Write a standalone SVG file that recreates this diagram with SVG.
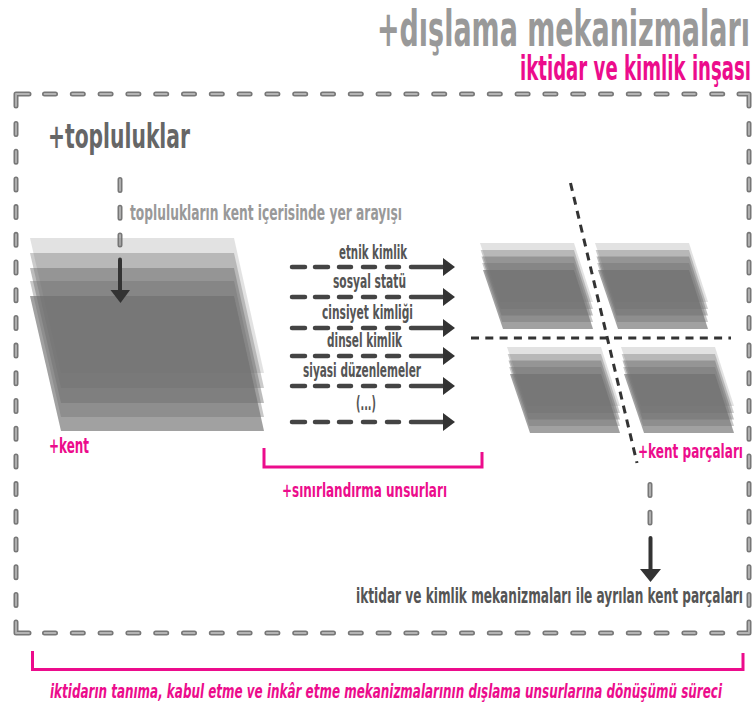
<svg xmlns="http://www.w3.org/2000/svg" xmlns:xlink="http://www.w3.org/1999/xlink" width="753" height="707" viewBox="0 0 753 707">
<style>
text{font-family:"DejaVu Sans","Liberation Sans",sans-serif;font-weight:700}
.p{fill:#ec0c8c}
.g{fill:#999}
.d{fill:#555}
.fo{fill:none;stroke:#777;stroke-width:5;stroke-linecap:round;stroke-linejoin:round}
.fi{fill:none;stroke:#b4b4b4;stroke-width:1.8;stroke-linecap:round;stroke-linejoin:round}
.h{stroke-dasharray:11 16.8}
.v{stroke-dasharray:11 16.7}
.brk{fill:none;stroke:#ec0c8c;stroke-width:3}
.a{fill:none;stroke:#444;stroke-width:4.500;stroke-linecap:round}
.ah{fill:#333}
.cut{fill:none;stroke:#333;stroke-width:3;stroke-dasharray:8 6.3}
.l{fill:#6e6e6e}
</style>
<defs>
<g id="frag">
<polygon class="l" fill-opacity=".2" points="0,0 94,0 113,59 20,59"/>
<polygon class="l" fill-opacity=".36" points=".7,7 94,7 113,66 20.7,66"/>
<polygon class="l" fill-opacity=".46" points="1.5,13.5 94,13.5 113,72.5 21.5,72.5"/>
<polygon class="l" fill-opacity=".38" points="2.2,20 94,20 113,79 22.2,79"/>
<polygon class="l" fill-opacity=".65" points="3,27 94,27 113,86 23,86"/>
</g>
</defs>

<g id="title">
<text class="g" x="377" y="46" font-size="50" textLength="373" lengthAdjust="spacingAndGlyphs">+dışlama mekanizmaları</text>
<text class="p" x="520" y="80" font-size="33" textLength="231" lengthAdjust="spacingAndGlyphs">iktidar ve kimlik inşası</text>
</g>

<g id="connectors">
<g id="frame">
<path class="fo" d="M16 106V94H29"/><path class="fi" d="M16 106V94H29"/>
<path class="fo" d="M739 94H749V106"/><path class="fi" d="M739 94H749V106"/>
<path class="fo" d="M16 622V633H29"/><path class="fi" d="M16 622V633H29"/>
<path class="fo" d="M739 633H749V622"/><path class="fi" d="M739 633H749V622"/>
<path class="fo h" d="M44.500 94H725"/><path class="fi h" d="M44.500 94H725"/>
<path class="fo h" d="M44.500 633H725"/><path class="fi h" d="M44.500 633H725"/>
<path class="fo v" d="M16 123.500V606"/><path class="fi v" d="M16 123.500V606"/>
<path class="fo v" d="M749 123.500V606"/><path class="fi v" d="M749 123.500V606"/>
</g>
<g id="search-line">
<path class="fo v" d="M120 179.500V245"/><path class="fi v" d="M120 179.500V245"/>
</g>
<g id="output-line">
<path class="fo v" d="M650 484.500V523"/><path class="fi v" d="M650 484.500V523"/>
</g>
</g>

<g id="topluluklar">
<text x="48" y="148" font-size="33" textLength="142" lengthAdjust="spacingAndGlyphs" fill="#666">+topluluklar</text>
<text class="g" x="130" y="220" font-size="22" textLength="272" lengthAdjust="spacingAndGlyphs">toplulukların kent içerisinde yer arayışı</text>
</g>

<g id="kent">
<polygon class="l" fill-opacity=".2" points="30,238 234,238 264,373 61,373"/>
<polygon class="l" fill-opacity=".36" points="30,253 234,253 264,388 61,388"/>
<polygon class="l" fill-opacity=".46" points="30,268 234,268 264,403 61,403"/>
<polygon class="l" fill-opacity=".38" points="30,281 234,281 264,417 61,417"/>
<polygon class="l" fill-opacity=".65" points="30,296 234,296 264,431 61,431"/>
<text class="p" x="49" y="453" font-size="22" textLength="40" lengthAdjust="spacingAndGlyphs">+kent</text>
</g>

<g id="search-arrow">
<path d="M120 259.500V292" fill="none" stroke="#333" stroke-width="4" stroke-linecap="round"/>
<polygon class="ah" points="110.500,290 130,290 120.500,303"/>
</g>

<g id="sinirlandirma">
<g id="a1"><text class="d" x="339" y="259" font-size="19" textLength="68" lengthAdjust="spacingAndGlyphs">etnik kimlik</text></g>
<g id="a2"><text class="d" x="333" y="288" font-size="19" textLength="73" lengthAdjust="spacingAndGlyphs">sosyal statü</text></g>
<g id="a3"><text class="d" x="322" y="319" font-size="19" textLength="91" lengthAdjust="spacingAndGlyphs">cinsiyet kimliği</text></g>
<g id="a4"><text class="d" x="327" y="347" font-size="19" textLength="75" lengthAdjust="spacingAndGlyphs">dinsel kimlik</text></g>
<g id="a5"><text class="d" x="303" y="377" font-size="19" textLength="118" lengthAdjust="spacingAndGlyphs">siyasi düzenlemeler</text></g>
<g id="a6"><text class="d" x="356" y="410" font-size="19" textLength="20" lengthAdjust="spacingAndGlyphs">(...)</text></g>
<path class="brk" d="M264 448V467H482V452"/>
<text class="p" x="282" y="497" font-size="20" textLength="165" lengthAdjust="spacingAndGlyphs">+sınırlandırma unsurları</text>
</g>

<g id="limit-arrows">
<path class="a" d="M292 267H305M315 267H328M339 267H351M363 267H375M387 267H399M411 267H444"/>
<polygon class="ah" points="443,258 455,267 443,276"/>
<path class="a" d="M292 297H305M315 297H328M339 297H351M363 297H375M387 297H399M411 297H444"/>
<polygon class="ah" points="443,288 455,297 443,306"/>
<path class="a" d="M292 328H305M315 328H328M339 328H351M363 328H375M387 328H399M411 328H444"/>
<polygon class="ah" points="443,319 455,328 443,337"/>
<path class="a" d="M292 356H305M315 356H328M339 356H351M363 356H375M387 356H399M411 356H444"/>
<polygon class="ah" points="443,347 455,356 443,365"/>
<path class="a" d="M292 386H305M315 386H328M339 386H351M363 386H375M387 386H399M411 386H444"/>
<polygon class="ah" points="443,377 455,386 443,395"/>
<path class="a" d="M292 422H305M315 422H328M339 422H351M363 422H375M387 422H399M411 422H444"/>
<polygon class="ah" points="443,413 455,422 443,431"/>
</g>

<g id="kent-parcalari">
<use href="#frag" transform="translate(480 243)"/>
<use href="#frag" transform="translate(595 243)"/>
<use href="#frag" transform="translate(507 347)"/>
<use href="#frag" transform="translate(621 347)"/>
<path class="cut" d="M570.500 183L637 463"/>
<path class="cut" d="M471 338H731"/>
<text class="p" x="638" y="458" font-size="20" textLength="105" lengthAdjust="spacingAndGlyphs">+kent parçaları</text>
</g>

<g id="output-arrow">
<path d="M650.500 538V571" fill="none" stroke="#333" stroke-width="4" stroke-linecap="round"/>
<polygon class="ah" points="640,569 661,569 650.500,582"/>
<text class="d" x="356" y="603" font-size="21" textLength="387" lengthAdjust="spacingAndGlyphs">iktidar ve kimlik mekanizmaları ile ayrılan kent parçaları</text>
</g>

<g id="surec">
<path class="brk" d="M32.500 651V669.500H743V653"/>
<text class="p" x="50" y="698" font-size="20" font-style="italic" textLength="672" lengthAdjust="spacingAndGlyphs">iktidarın tanıma, kabul etme ve inkâr etme mekanizmalarının dışlama unsurlarına dönüşümü süreci</text>
</g>
</svg>
